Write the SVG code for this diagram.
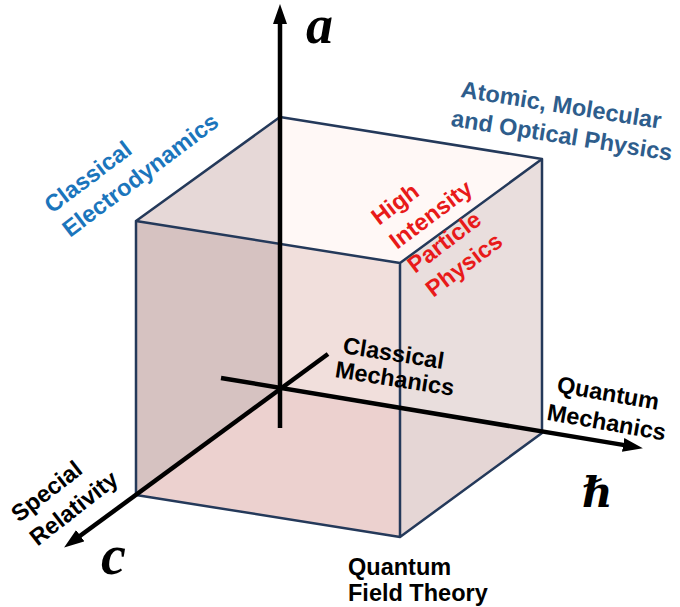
<svg xmlns="http://www.w3.org/2000/svg" width="680" height="607" viewBox="0 0 680 607">
<style>
.edge{stroke:#24395a;stroke-width:2.5;fill:none;stroke-linejoin:round}
.axis{stroke:#000;stroke-width:4.5;fill:none}
.lbl{font-family:"Liberation Sans",Arial,sans-serif;font-weight:bold;font-size:23.5px}
.math{font-family:"Liberation Serif","DejaVu Serif",serif;font-style:italic;font-weight:bold;fill:#000}
</style>
<defs>
<marker id="arr" markerUnits="userSpaceOnUse" markerWidth="20" markerHeight="14" viewBox="0 0 20 14" refX="9" refY="7" orient="auto">
<path d="M0,0 L20,7 L0,14 Z" fill="#000"/>
</marker>
</defs>
<g id="cube">
<polygon points="280,117 542,159 400,263 136,221" fill="#fff8f6"/>
<polygon points="136,221 280,117 280,244" fill="#e6d8d7"/>
<polygon points="136,221 280,244 280,390 136,495" fill="#d6c2c1"/>
<polygon points="280,244 400,263 400,410 280,390" fill="#f1dfdc"/>
<polygon points="280,390 400,410 400,537 280,518" fill="#ecd1cf"/>
<polygon points="136,495 280,390 280,518" fill="#ecd1cf"/>
<polygon points="400,263 542,159 542,433 400,410" fill="#e9dedd"/>
<polygon points="400,410 542,433 400,537" fill="#e5d6d5"/>
<path class="edge" d="M136,221 L280,117 L542,159 L400,263 Z M136,221 L136,495 L400,537 L542,433 L542,159 M400,263 L400,537"/>
</g>
<g id="connectors">
<line class="axis" x1="280" y1="428" x2="280" y2="15" marker-end="url(#arr)"/>
<line class="axis" x1="221" y1="378" x2="632" y2="446.4" marker-end="url(#arr)"/>
<line class="axis" x1="328" y1="354" x2="73" y2="541" marker-end="url(#arr)"/>
</g>
<g id="axis-a"><text class="math" x="306" y="43" font-size="54">a</text></g>
<g id="axis-hbar"><text class="math" x="582" y="507" font-size="42" font-weight="normal">ℏ</text></g>
<g id="axis-c"><text class="math" x="101" y="574" font-size="56">c</text></g>
<g id="classical-electrodynamics">
<text class="lbl" fill="#1b75bc" transform="translate(52,214) rotate(-37)"><tspan x="0" y="0">Classical</tspan><tspan x="0" y="30">Electrodynamics</tspan></text>
</g>
<g id="amo-physics">
<text class="lbl" fill="#2e5d8c" transform="translate(460,97) rotate(9)"><tspan x="0" y="0">Atomic, Molecular</tspan><tspan x="-5" y="30">and Optical Physics</tspan></text>
</g>
<g id="high-intensity">
<text class="lbl" fill="#e81a1a" transform="translate(379,226) rotate(-37)"><tspan x="0" y="0">High</tspan><tspan x="0" y="30">Intensity</tspan><tspan x="0" y="60">Particle</tspan><tspan x="0" y="90">Physics</tspan></text>
</g>
<g id="classical-mechanics">
<text class="lbl" fill="#000" transform="translate(342,353) rotate(9)"><tspan x="0" y="0">Classical</tspan><tspan x="-4" y="25">Mechanics</tspan></text>
</g>
<g id="quantum-mechanics">
<text class="lbl" fill="#000" transform="translate(556,392) rotate(10)"><tspan x="0" y="0">Quantum</tspan><tspan x="-5" y="29">Mechanics</tspan></text>
</g>
<g id="special-relativity">
<text class="lbl" fill="#000" transform="translate(19,523) rotate(-38)"><tspan x="0" y="0">Special</tspan><tspan x="0" y="30">Relativity</tspan></text>
</g>
<g id="qft">
<text class="lbl" fill="#000"><tspan x="348" y="575">Quantum</tspan><tspan x="348" y="601">Field Theory</tspan></text>
</g>
</svg>
